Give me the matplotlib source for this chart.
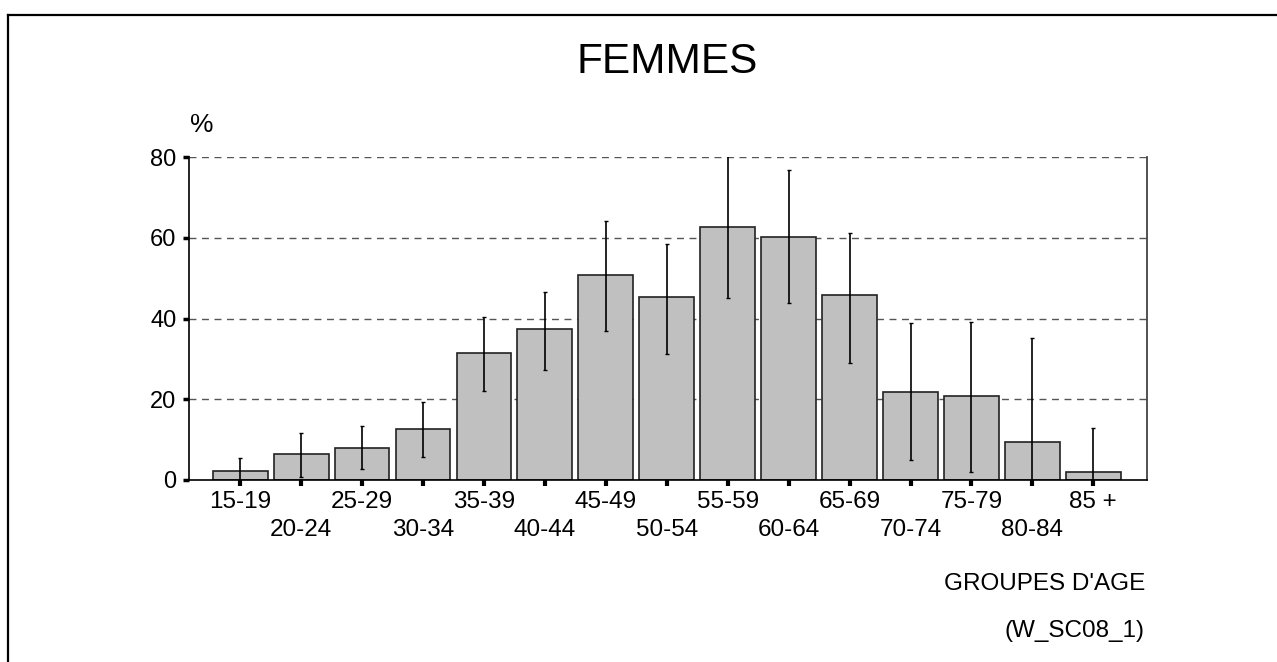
import numpy as np
import matplotlib
matplotlib.use('Agg')
import matplotlib.pyplot as plt
from matplotlib.lines import Line2D

plt.rcParams['font.family'] = ['Liberation Sans', 'DejaVu Sans']

# data
groups = ['15-19', '20-24', '25-29', '30-34', '35-39', '40-44', '45-49', '50-54',
          '55-59', '60-64', '65-69', '70-74', '75-79', '80-84', '85 +']
pct = [2.2, 6.4, 8.0, 12.7, 31.4, 37.4, 50.7, 45.3,
       62.7, 60.2, 45.7, 21.9, 20.9, 9.5, 2.1]
ci_low = [-1.0, 0.8, 2.7, 5.8, 22.1, 27.2, 37.0, 31.3,
          45.0, 43.8, 29.0, 4.95, 2.1, -16.0, -9.0]
ci_high = [5.4, 11.6, 13.4, 19.2, 40.4, 46.5, 64.1, 58.5,
           82.0, 76.9, 61.3, 38.9, 39.2, 35.2, 13.0]
yticks = [0, 20, 40, 60, 80]

fig = plt.figure(figsize=(12.77, 6.62), dpi=100)
ax = fig.add_axes([189/1277, 182/662, 958/1277, 323/662])

x = np.arange(len(groups))
pct = np.array(pct)
yerr = [pct - np.array(ci_low), np.array(ci_high) - pct]

for y in yticks[1:]:
    ax.axhline(y, color='#555555', lw=1.0, ls=(0, (5, 4)), zorder=1)

ax.bar(x, pct, width=0.9, color='#c0c0c0', edgecolor='#222222', lw=1.2, zorder=2)
ax.errorbar(x, pct, yerr=yerr, fmt='none', ecolor='black', elinewidth=1.2,
            capsize=1.5, capthick=1.0, zorder=3)

ax.set_xlim(-0.84, 14.88)
ax.set_ylim(0, 80)
ax.set_yticks(yticks)
ax.set_yticklabels([str(v) for v in yticks], fontsize=17)
ax.set_xticks(x)
labels = [g if i % 2 == 0 else '\n' + g for i, g in enumerate(groups)]
ax.set_xticklabels(labels, fontsize=17.5, linespacing=1.35)
ax.tick_params(axis='x', length=4, width=3, pad=4, color='black')
ax.tick_params(axis='y', length=4, width=2.5, pad=5, color='black')

ax.spines['top'].set_visible(False)
ax.spines['left'].set_color('black')
ax.spines['bottom'].set_color('black')
ax.spines['right'].set_color('#333333')
for s in ['left', 'bottom', 'right']:
    ax.spines[s].set_linewidth(1.2)

fig.text(667/1277, 1 - 62/662, 'FEMMES', fontsize=30.5, ha='center', va='center')
fig.text(202/1277, 1 - 125/662, '%', fontsize=19, ha='center', va='center')
fig.text(1145/1277, 1 - 584/662, "GROUPES D'AGE", fontsize=17.5, ha='right', va='center')
fig.text(1145/1277, 1 - 631/662, '(W_SC08_1)', fontsize=17.5, ha='right', va='center')

# outer frame (top and left edges visible)
fig.add_artist(Line2D([8/1277, 1.0], [1 - 15/662, 1 - 15/662],
                      transform=fig.transFigure, color='black', lw=1.6))
fig.add_artist(Line2D([8/1277, 8/1277], [0.0, 1 - 15/662],
                      transform=fig.transFigure, color='black', lw=1.6))

fig.savefig('out.png', dpi=100)
